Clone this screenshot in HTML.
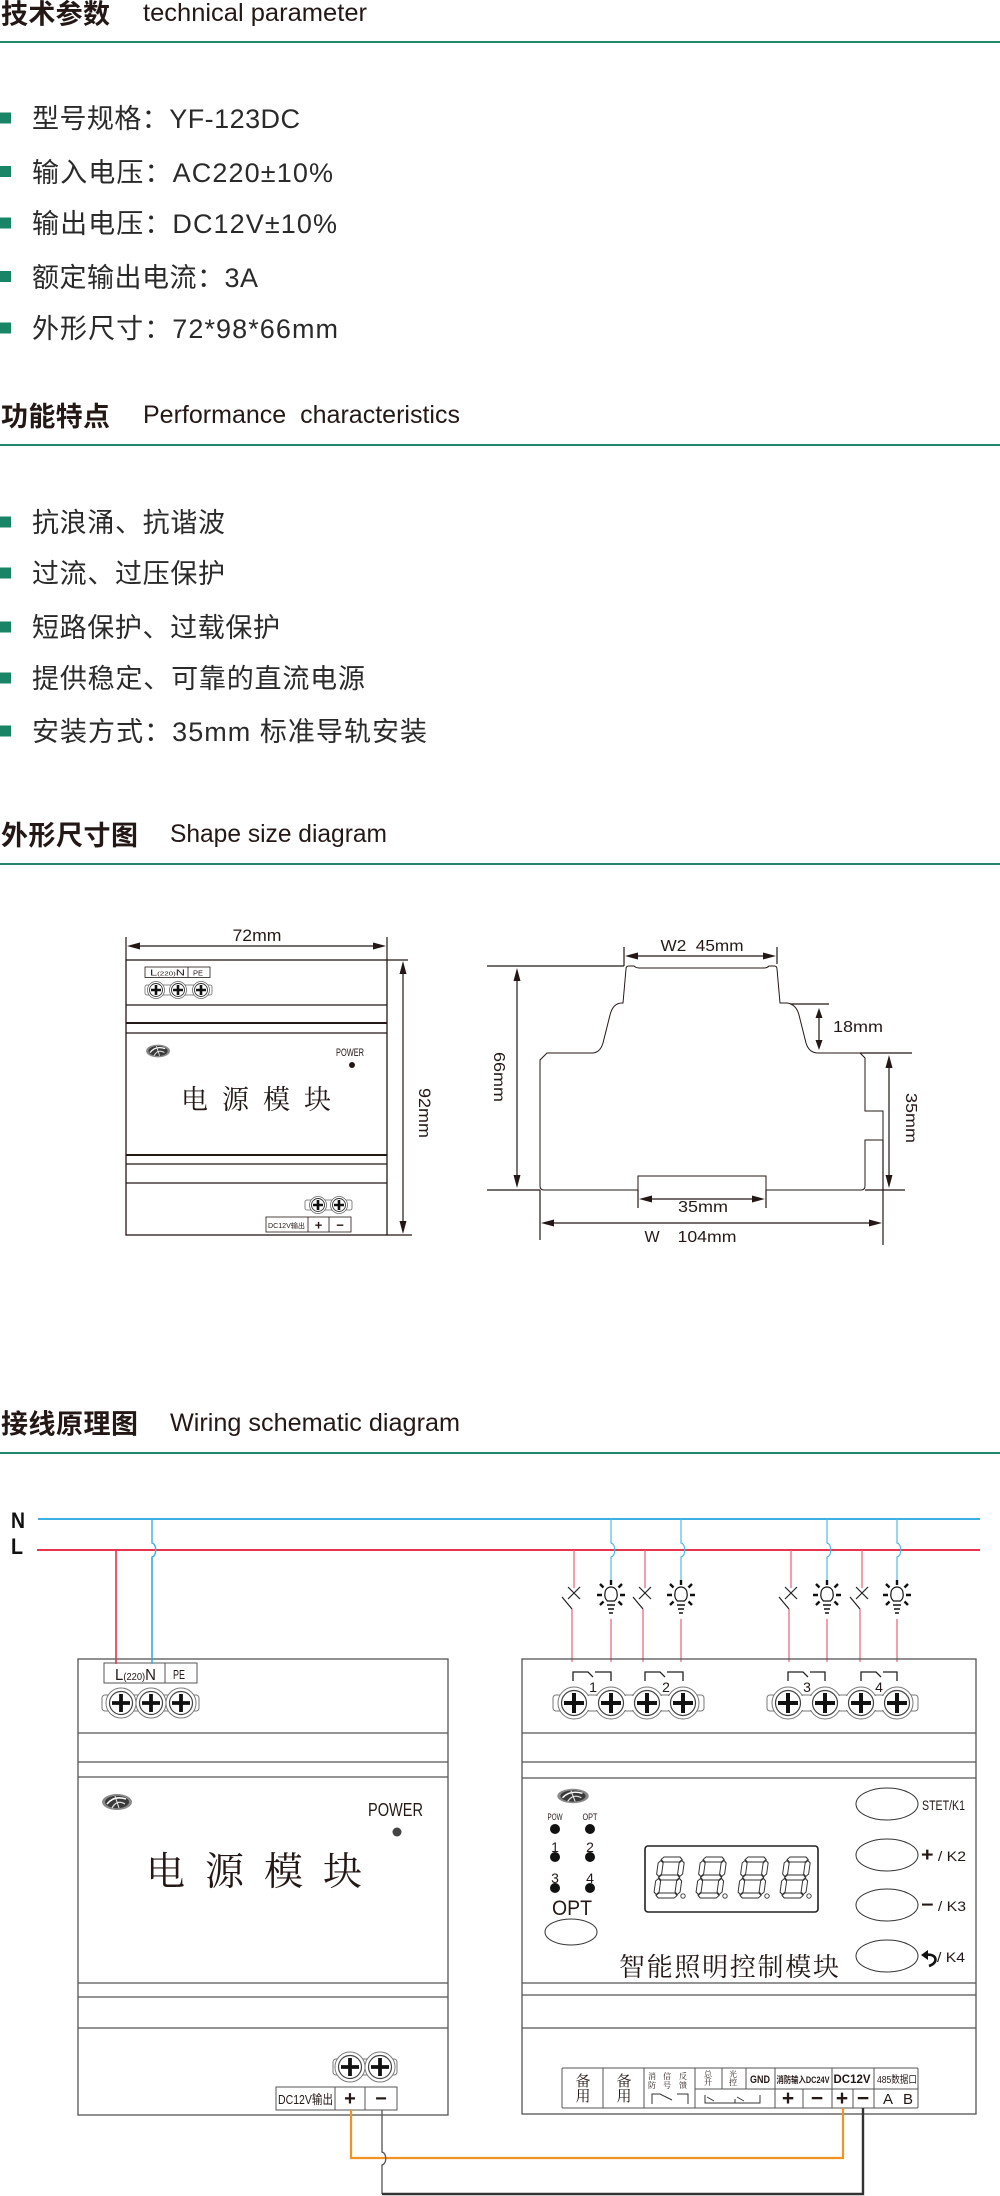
<!DOCTYPE html>
<html><head><meta charset="utf-8">
<style>
html,body{margin:0;padding:0;background:#fff;}
body{width:1000px;height:2196px;overflow:hidden;}
svg{display:block;}
</style></head><body>
<svg width="1000" height="2196" viewBox="0 0 1000 2196" xmlns="http://www.w3.org/2000/svg" xmlns:xlink="http://www.w3.org/1999/xlink">
<defs>
 <g id="dg" fill="none" stroke="#333" stroke-width="1">
  <polygon points="2.5,2.5 5,0 21,0 23.5,2.5 21,5 5,5"/>
  <polygon points="2.5,20.5 5,18 21,18 23.5,20.5 21,23 5,23"/>
  <polygon points="2.5,38.5 5,36 21,36 23.5,38.5 21,41 5,41"/>
  <polygon points="2.5,3.5 5,6 5,17 2.5,19.5 0,17 0,6"/>
  <polygon points="23.5,3.5 26,6 26,17 23.5,19.5 21,17 21,6"/>
  <polygon points="2.5,21.5 5,24 5,35 2.5,37.5 0,35 0,24"/>
  <polygon points="23.5,21.5 26,24 26,35 23.5,37.5 21,35 21,24"/>
 </g>
 <g id="logo">
  <ellipse rx="15" ry="8" fill="#8a8a8a"/>
  <ellipse rx="12" ry="6.2" fill="#3a3a3a"/>
  <path d="M-10 2 Q-3 -7 9 -3" stroke="#fff" stroke-width="1.6" fill="none"/>
  <path d="M-5 6 Q0 -3 8 2" stroke="#ddd" stroke-width="1.3" fill="none"/>
  <path d="M-2 -6 L2 6" stroke="#eee" stroke-width="1" fill="none"/>
 </g>
</defs>

<g font-family="'Liberation Sans','Noto Sans CJK SC',sans-serif" fill="#231815">
 <text x="1" y="23.5" font-size="27" font-weight="bold" textLength="109">技术参数</text>
 <text x="143" y="21" font-size="25" textLength="224" lengthAdjust="spacingAndGlyphs">technical parameter</text>
 <rect x="0" y="41" width="1000" height="2" fill="#22876a"/>
 <g fill="#1a8566">
  <rect x="0" y="112.5" width="11" height="11"/>
  <rect x="0" y="166" width="11" height="11"/>
  <rect x="0" y="217.5" width="11" height="11"/>
  <rect x="0" y="271" width="11" height="11"/>
  <rect x="0" y="322.5" width="11" height="11"/>
 </g>
 <g font-size="27" fill="#2a2a2a">
  <text x="32" y="128" textLength="268">型号规格：YF-123DC</text>
  <text x="32" y="182" textLength="301">输入电压：AC220±10%</text>
  <text x="32" y="233" textLength="305">输出电压：DC12V±10%</text>
  <text x="32" y="287" textLength="226">额定输出电流：3A</text>
  <text x="32" y="338" textLength="306">外形尺寸：72*98*66mm</text>
 </g>

 <text x="1" y="426" font-size="27" font-weight="bold" textLength="109">功能特点</text>
 <text x="143" y="423" font-size="25" textLength="317" lengthAdjust="spacingAndGlyphs">Performance&#160; characteristics</text>
 <rect x="0" y="444" width="1000" height="2" fill="#22876a"/>
 <g fill="#1a8566">
  <rect x="0" y="516.5" width="11" height="11"/>
  <rect x="0" y="567.5" width="11" height="11"/>
  <rect x="0" y="621.5" width="11" height="11"/>
  <rect x="0" y="672.5" width="11" height="11"/>
  <rect x="0" y="725.5" width="11" height="11"/>
 </g>
 <g font-size="27" fill="#2a2a2a">
  <text x="32" y="532" textLength="193">抗浪涌、抗谐波</text>
  <text x="32" y="583" textLength="193">过流、过压保护</text>
  <text x="32" y="637" textLength="248">短路保护、过载保护</text>
  <text x="32" y="688" textLength="333">提供稳定、可靠的直流电源</text>
  <text x="32" y="741" textLength="395">安装方式：35mm 标准导轨安装</text>
 </g>

 <text x="1" y="845" font-size="27" font-weight="bold" textLength="137">外形尺寸图</text>
 <text x="170" y="842" font-size="25" textLength="217" lengthAdjust="spacingAndGlyphs">Shape size diagram</text>
 <rect x="0" y="863" width="1000" height="2" fill="#22876a"/>

 <text x="1" y="1433.5" font-size="27" font-weight="bold" textLength="137">接线原理图</text>
 <text x="170" y="1431" font-size="25" textLength="290" lengthAdjust="spacingAndGlyphs">Wiring schematic diagram</text>
 <rect x="0" y="1452" width="1000" height="2" fill="#22876a"/>
</g>

<!-- FRONT VIEW -->
<g stroke="#231815" fill="none" stroke-width="1.3">
 <rect x="126" y="960" width="261" height="275"/>
 <path d="M126 1005H387 M126 1033H387 M126 1164H387 M126 1183H387"/>
 <path d="M126 1023H387 M126 1155H387" stroke-width="2"/>
 <path d="M126 937V960 M387 937V960 M138 946H375" stroke-width="1.2"/>
 <path d="M387 960H408 M387 1235H412 M403 972V1223" stroke-width="1.2"/>
 <rect x="145" y="967" width="65" height="10.5" stroke-width="0.8"/>
 <path d="M188 967V977.5" stroke-width="0.8"/>
 <rect x="266" y="1217" width="85" height="15" stroke-width="0.8"/>
 <path d="M308 1217V1232 M329 1217V1232" stroke-width="0.8"/>
</g>
<g fill="#231815">
 <polygon points="127,946 140,942.5 140,949.5"/>
 <polygon points="386,946 373,942.5 373,949.5"/>
 <polygon points="403,961 399.5,974 406.5,974"/>
 <polygon points="403,1234 399.5,1221 406.5,1221"/>
 <circle cx="352" cy="1065" r="3"/>
</g>
<g>
 <rect x="145" y="985" width="67" height="10" rx="2" fill="#fff" stroke="#666" stroke-width="0.8"/>
 <circle cx="156" cy="990" r="8.5" fill="#fff" stroke="#666" stroke-width="0.8"/>
 <circle cx="178" cy="990" r="8.5" fill="#fff" stroke="#666" stroke-width="0.8"/>
 <circle cx="201" cy="990" r="8.5" fill="#fff" stroke="#666" stroke-width="0.8"/>
 <circle cx="156" cy="990" r="6.5" fill="#fff" stroke="#333" stroke-width="0.9"/>
 <circle cx="178" cy="990" r="6.5" fill="#fff" stroke="#333" stroke-width="0.9"/>
 <circle cx="201" cy="990" r="6.5" fill="#fff" stroke="#333" stroke-width="0.9"/>
 <path d="M151 990H161 M156 985V995 M173 990H183 M178 985V995 M196 990H206 M201 985V995" stroke="#111" stroke-width="2.6"/>
</g>
<g>
 <rect x="305" y="1200" width="47" height="10" rx="2" fill="#fff" stroke="#666" stroke-width="0.8"/>
 <circle cx="318" cy="1205" r="8.5" fill="#fff" stroke="#666" stroke-width="0.8"/>
 <circle cx="339" cy="1205" r="8.5" fill="#fff" stroke="#666" stroke-width="0.8"/>
 <circle cx="318" cy="1205" r="6.5" fill="#fff" stroke="#333" stroke-width="0.9"/>
 <circle cx="339" cy="1205" r="6.5" fill="#fff" stroke="#333" stroke-width="0.9"/>
 <path d="M313 1205H323 M318 1200V1210 M334 1205H344 M339 1200V1210" stroke="#111" stroke-width="2.6"/>
</g>
<use xlink:href="#logo" href="#logo" transform="translate(158,1051) scale(0.8)"/>
<g font-family="'Liberation Sans','Noto Sans CJK SC',sans-serif" fill="#231815">
 <text x="257" y="941" font-size="17" text-anchor="middle" textLength="49" lengthAdjust="spacingAndGlyphs">72mm</text>
 <text transform="translate(419,1113) rotate(90)" x="0" y="0" font-size="17" text-anchor="middle" textLength="50" lengthAdjust="spacingAndGlyphs">92mm</text>
 <text x="150" y="975.5" font-size="8" textLength="35" lengthAdjust="spacingAndGlyphs">L<tspan font-size="5">(220)</tspan>N</text>
 <text x="193" y="975.5" font-size="7" textLength="10" lengthAdjust="spacingAndGlyphs">PE</text>
 <text x="350" y="1056" font-size="11" text-anchor="middle" textLength="28" lengthAdjust="spacingAndGlyphs">POWER</text>
 <text x="268" y="1228" font-size="7" textLength="37" lengthAdjust="spacingAndGlyphs">DC12V输出</text>
 <text x="318.5" y="1229.5" font-size="13" font-weight="bold" text-anchor="middle">+</text>
 <text x="340" y="1229.5" font-size="13" font-weight="bold" text-anchor="middle">−</text>
</g>
<text x="181" y="1109" font-family="'Noto Serif CJK SC','Liberation Serif',serif" font-size="27" fill="#231815" textLength="150">电源模块</text>

<!-- SIDE VIEW -->
<g stroke="#231815" fill="none" stroke-width="1">
 <path d="M623 1003 L626 969 Q626 966 629 966 L634 966 Q636 968 639 968 L764 968 Q767 968 769 966 L774 966 Q777 966 777 969 L780 1003 L787 1003 Q796 1004 799 1015 L806 1043 Q809 1053 818 1053 L860 1053 L865 1058 L865 1111 L883 1111 L883 1140 L865 1140 L865 1186 Q865 1190 861 1190 L766 1190 L766 1176 L638 1176 L638 1190 L544 1190 Q540 1190 540 1186 L540 1060 L547 1053 L592 1053 Q600 1053 603 1043 L610 1015 Q613 1003 622 1003 Z"/>
</g>
<g stroke="#231815" fill="none" stroke-width="1.2">
 <path d="M624 947V966 M777 947V964 M636 956H765"/>
 <path d="M487 966H624 M487 1190H540 M517 980V1177"/>
 <path d="M790 1004H829 M819 1016V1042"/>
 <path d="M860 1053H912 M865 1190H905 M889 1066V1177"/>
 <path d="M638 1190V1208 M766 1190V1208 M651 1199H753"/>
 <path d="M540 1190V1240 M883 1140V1245 M553 1223H870"/>
</g>
<g fill="#231815">
 <polygon points="625,956 638,952.5 638,959.5"/>
 <polygon points="776,956 763,952.5 763,959.5"/>
 <polygon points="517,968 513.5,981 520.5,981"/>
 <polygon points="517,1188 513.5,1175 520.5,1175"/>
 <polygon points="819,1008 815.5,1018 822.5,1018"/>
 <polygon points="819,1050 815.5,1040 822.5,1040"/>
 <polygon points="889,1055 885.5,1068 892.5,1068"/>
 <polygon points="889,1188 885.5,1175 892.5,1175"/>
 <polygon points="639,1199 652,1195.5 652,1202.5"/>
 <polygon points="765,1199 752,1195.5 752,1202.5"/>
 <polygon points="541,1223 554,1219.5 554,1226.5"/>
 <polygon points="882,1223 869,1219.5 869,1226.5"/>
</g>
<g font-family="'Liberation Sans','Noto Sans CJK SC',sans-serif" fill="#231815" font-size="16">
 <text x="702" y="951" text-anchor="middle" textLength="83" lengthAdjust="spacingAndGlyphs">W2&#160;&#160;45mm</text>
 <text transform="translate(494,1077) rotate(90)" x="0" y="0" text-anchor="middle" textLength="50" lengthAdjust="spacingAndGlyphs">66mm</text>
 <text x="833" y="1032" textLength="50" lengthAdjust="spacingAndGlyphs">18mm</text>
 <text transform="translate(906,1118) rotate(90)" x="0" y="0" text-anchor="middle" textLength="50" lengthAdjust="spacingAndGlyphs">35mm</text>
 <text x="703" y="1212" text-anchor="middle" textLength="50" lengthAdjust="spacingAndGlyphs">35mm</text>
 <text x="652" y="1242" text-anchor="middle">W</text>
 <text x="707" y="1242" text-anchor="middle" textLength="59" lengthAdjust="spacingAndGlyphs">104mm</text>
</g>

<!-- WIRING -->
<g font-family="'Liberation Sans',sans-serif" font-weight="bold" fill="#111" font-size="22">
 <text x="11" y="1528" textLength="14" lengthAdjust="spacingAndGlyphs">N</text>
 <text x="11" y="1554" textLength="12" lengthAdjust="spacingAndGlyphs">L</text>
</g>
<path d="M38 1519H980" stroke="#3ab0e2" stroke-width="2" fill="none"/>
<path d="M37 1550H980" stroke="#e8344e" stroke-width="2" fill="none"/>
<path d="M116 1550V1663" stroke="#e8344e" stroke-width="1.4" fill="none"/>
<path d="M152 1519V1543 C157 1544 157 1556 152 1557 V1663" stroke="#3ab0e2" stroke-width="1.4" fill="none"/>

<g stroke="#ec6275" stroke-width="1.2" fill="none">
 <path d="M574 1550V1588 M572 1609V1662"/>
 <path d="M645 1550V1588 M643 1609V1662"/>
 <path d="M791 1550V1588 M789 1609V1662"/>
 <path d="M862 1550V1588 M860 1609V1662"/>
 <path d="M611 1619V1662 M681 1619V1662 M827 1619V1662 M897 1619V1662"/>
</g>
<g stroke="#222" stroke-width="1.2" fill="none">
 <path d="M568 1587L580 1599 M580 1587L568 1599 M562 1597L572 1609"/>
 <path d="M639 1587L651 1599 M651 1587L639 1599 M633 1597L643 1609"/>
 <path d="M785 1587L797 1599 M797 1587L785 1599 M779 1597L789 1609"/>
 <path d="M856 1587L868 1599 M868 1587L856 1599 M850 1597L860 1609"/>
</g>
<g stroke="#4fbbe8" stroke-width="1.2" fill="none">
 <path d="M611 1519V1543 C616 1544 616 1556 611 1557 V1581"/>
 <path d="M681 1519V1543 C686 1544 686 1556 681 1557 V1581"/>
 <path d="M827 1519V1543 C832 1544 832 1556 827 1557 V1581"/>
 <path d="M897 1519V1543 C902 1544 902 1556 897 1557 V1581"/>
</g>
<g stroke="#111" fill="none">
 <g transform="translate(611,0)">
  <path d="M-3.5 1601 Q-7 1598 -6 1593 A6 6 0 1 1 6 1593 Q7 1598 3.5 1601 Z" stroke-width="1.2" fill="#fff"/>
  <path d="M-4 1605H4 M-3 1609H3 M-2 1613H2" stroke-width="1.6"/>
  <path d="M0 1580V1585 M-14 1595H-9 M9 1595H14 M-11 1584L-7.5 1587.5 M11 1584L7.5 1587.5 M-11 1605L-7.5 1601.5 M11 1605L7.5 1601.5" stroke-width="2.4"/>
 </g>
 <g transform="translate(681,0)">
  <path d="M-3.5 1601 Q-7 1598 -6 1593 A6 6 0 1 1 6 1593 Q7 1598 3.5 1601 Z" stroke-width="1.2" fill="#fff"/>
  <path d="M-4 1605H4 M-3 1609H3 M-2 1613H2" stroke-width="1.6"/>
  <path d="M0 1580V1585 M-14 1595H-9 M9 1595H14 M-11 1584L-7.5 1587.5 M11 1584L7.5 1587.5 M-11 1605L-7.5 1601.5 M11 1605L7.5 1601.5" stroke-width="2.4"/>
 </g>
 <g transform="translate(827,0)">
  <path d="M-3.5 1601 Q-7 1598 -6 1593 A6 6 0 1 1 6 1593 Q7 1598 3.5 1601 Z" stroke-width="1.2" fill="#fff"/>
  <path d="M-4 1605H4 M-3 1609H3 M-2 1613H2" stroke-width="1.6"/>
  <path d="M0 1580V1585 M-14 1595H-9 M9 1595H14 M-11 1584L-7.5 1587.5 M11 1584L7.5 1587.5 M-11 1605L-7.5 1601.5 M11 1605L7.5 1601.5" stroke-width="2.4"/>
 </g>
 <g transform="translate(897,0)">
  <path d="M-3.5 1601 Q-7 1598 -6 1593 A6 6 0 1 1 6 1593 Q7 1598 3.5 1601 Z" stroke-width="1.2" fill="#fff"/>
  <path d="M-4 1605H4 M-3 1609H3 M-2 1613H2" stroke-width="1.6"/>
  <path d="M0 1580V1585 M-14 1595H-9 M9 1595H14 M-11 1584L-7.5 1587.5 M11 1584L7.5 1587.5 M-11 1605L-7.5 1601.5 M11 1605L7.5 1601.5" stroke-width="2.4"/>
 </g>
</g>

<!-- LEFT POWER MODULE -->
<g stroke="#555" fill="none" stroke-width="1.3">
 <rect x="78" y="1659" width="370" height="456"/>
 <path d="M78 1733H448 M78 1762H448 M78 1777H448 M78 1983H448 M78 1997H448 M78 2028H448" stroke-width="1.2"/>
 <rect x="104" y="1663" width="93" height="20" stroke-width="1"/>
 <path d="M165 1663V1683" stroke-width="1"/>
 <rect x="276" y="2087" width="121" height="23" stroke-width="1"/>
 <path d="M335 2087V2110 M365 2087V2110" stroke-width="1"/>
</g>
<path d="M116 1550V1664" stroke="#e8344e" stroke-width="1.4" fill="none"/>
<path d="M152 1557V1664" stroke="#3ab0e2" stroke-width="1.4" fill="none"/>
<g>
 <rect x="102" y="1695" width="97" height="16" rx="3" fill="#fff" stroke="#777" stroke-width="1"/>
 <circle cx="121" cy="1703" r="15" fill="#fff" stroke="#777" stroke-width="1"/>
 <circle cx="151" cy="1703" r="15" fill="#fff" stroke="#777" stroke-width="1"/>
 <circle cx="181" cy="1703" r="15" fill="#fff" stroke="#777" stroke-width="1"/>
 <circle cx="121" cy="1703" r="14.4" fill="#fff"/>
 <circle cx="151" cy="1703" r="14.4" fill="#fff"/>
 <circle cx="181" cy="1703" r="14.4" fill="#fff"/>
 <circle cx="121" cy="1703" r="11.5" fill="#fff" stroke="#444" stroke-width="1.2"/>
 <circle cx="151" cy="1703" r="11.5" fill="#fff" stroke="#444" stroke-width="1.2"/>
 <circle cx="181" cy="1703" r="11.5" fill="#fff" stroke="#444" stroke-width="1.2"/>
 <path d="M112 1703H130 M121 1694V1712 M142 1703H160 M151 1694V1712 M172 1703H190 M181 1694V1712" stroke="#111" stroke-width="3.8"/>
</g>
<g>
 <rect x="333" y="2059" width="64" height="16" rx="3" fill="#fff" stroke="#777" stroke-width="1"/>
 <circle cx="350" cy="2067" r="15" fill="#fff" stroke="#777" stroke-width="1"/>
 <circle cx="380" cy="2067" r="15" fill="#fff" stroke="#777" stroke-width="1"/>
 <circle cx="350" cy="2067" r="14.4" fill="#fff"/>
 <circle cx="380" cy="2067" r="14.4" fill="#fff"/>
 <circle cx="350" cy="2067" r="11.5" fill="#fff" stroke="#444" stroke-width="1.2"/>
 <circle cx="380" cy="2067" r="11.5" fill="#fff" stroke="#444" stroke-width="1.2"/>
 <path d="M341 2067H359 M350 2058V2076 M371 2067H389 M380 2058V2076" stroke="#111" stroke-width="3.8"/>
</g>
<use xlink:href="#logo" href="#logo" transform="translate(117,1802)"/>
<circle cx="397" cy="1832" r="4.5" fill="#444"/>
<g font-family="'Liberation Sans','Noto Sans CJK SC',sans-serif" fill="#231815">
 <text x="115" y="1680" font-size="16" textLength="41" lengthAdjust="spacingAndGlyphs">L<tspan font-size="10">(220)</tspan>N</text>
 <text x="173" y="1679" font-size="13" textLength="12" lengthAdjust="spacingAndGlyphs">PE</text>
 <text x="368" y="1816" font-size="18" textLength="55" lengthAdjust="spacingAndGlyphs">POWER</text>
 <text x="278" y="2104" font-size="13" textLength="55" lengthAdjust="spacingAndGlyphs">DC12V输出</text>
 <text x="350" y="2105" font-size="20" font-weight="bold" text-anchor="middle">+</text>
 <text x="381" y="2105" font-size="20" font-weight="bold" text-anchor="middle">−</text>
</g>
<text x="146" y="1885" font-family="'Noto Serif CJK SC','Liberation Serif',serif" font-size="39" fill="#231815" textLength="216">电源模块</text>

<!-- RIGHT CONTROL MODULE -->
<g stroke="#555" fill="none" stroke-width="1.3">
 <rect x="522" y="1659" width="454" height="455"/>
 <path d="M522 1733H976 M522 1762H976 M522 1778H976 M522 1983H976 M522 1995H976 M522 2028H976" stroke-width="1.2"/>
</g>
<g stroke="#222" stroke-width="1.3" fill="none">
 <path d="M573 1681V1672H588L593 1677 M595 1672H611V1681"/>
 <path d="M645 1681V1672H660L665 1677 M667 1672H683V1681"/>
 <path d="M788 1681V1672H803L808 1677 M810 1672H825V1681"/>
 <path d="M861 1681V1672H876L881 1677 M883 1672H897V1681"/>
</g>
<g font-family="'Liberation Sans',sans-serif" fill="#231815" font-size="14" text-anchor="middle">
 <text x="593" y="1692">1</text>
 <text x="666" y="1692">2</text>
 <text x="807" y="1692">3</text>
 <text x="879" y="1692">4</text>
</g>
<g>
 <rect x="553" y="1695" width="151" height="16" rx="3" fill="#fff" stroke="#777" stroke-width="1"/>
 <rect x="767" y="1695" width="151" height="16" rx="3" fill="#fff" stroke="#777" stroke-width="1"/>
 <g fill="#fff" stroke="#777" stroke-width="1">
  <circle cx="574" cy="1703" r="16"/><circle cx="611" cy="1703" r="16"/><circle cx="647" cy="1703" r="16"/><circle cx="683" cy="1703" r="16"/>
  <circle cx="788" cy="1703" r="16"/><circle cx="825" cy="1703" r="16"/><circle cx="861" cy="1703" r="16"/><circle cx="897" cy="1703" r="16"/>
 </g>
 <g fill="#fff">
  <rect x="574" y="1696" width="109" height="14"/>
  <rect x="788" y="1696" width="109" height="14"/>
 </g>
 <g fill="#fff" stroke="#444" stroke-width="1.2">
  <circle cx="574" cy="1703" r="12.5"/><circle cx="611" cy="1703" r="12.5"/><circle cx="647" cy="1703" r="12.5"/><circle cx="683" cy="1703" r="12.5"/>
  <circle cx="788" cy="1703" r="12.5"/><circle cx="825" cy="1703" r="12.5"/><circle cx="861" cy="1703" r="12.5"/><circle cx="897" cy="1703" r="12.5"/>
 </g>
 <path d="M564 1703H584 M574 1693V1713 M601 1703H621 M611 1693V1713 M637 1703H657 M647 1693V1713 M673 1703H693 M683 1693V1713 M778 1703H798 M788 1693V1713 M815 1703H835 M825 1693V1713 M851 1703H871 M861 1693V1713 M887 1703H907 M897 1693V1713" stroke="#111" stroke-width="4"/>
</g>

<use xlink:href="#logo" href="#logo" transform="translate(573,1796) scale(1.05,0.9)"/>
<g font-family="'Liberation Sans',sans-serif" fill="#231815" text-anchor="middle">
 <text x="555" y="1820" font-size="9" textLength="15" lengthAdjust="spacingAndGlyphs">POW</text>
 <text x="590" y="1820" font-size="9" textLength="15" lengthAdjust="spacingAndGlyphs">OPT</text>
 <text x="555" y="1852" font-size="14">1</text>
 <text x="590" y="1852" font-size="14">2</text>
 <text x="555" y="1883" font-size="14">3</text>
 <text x="590" y="1883" font-size="14">4</text>
 <text x="572" y="1915" font-size="21" textLength="40" lengthAdjust="spacingAndGlyphs">OPT</text>
</g>
<g fill="#111">
 <circle cx="555" cy="1829" r="5"/><circle cx="590" cy="1829" r="5"/>
 <circle cx="555" cy="1857" r="5"/><circle cx="590" cy="1857" r="5"/>
 <circle cx="555" cy="1888" r="5"/><circle cx="590" cy="1888" r="5"/>
</g>
<ellipse cx="571" cy="1932" rx="26" ry="13" fill="none" stroke="#333" stroke-width="1"/>
<rect x="645" y="1846" width="173" height="66" rx="3" fill="none" stroke="#222" stroke-width="1.6"/>
<use xlink:href="#dg" href="#dg" transform="translate(659,1857) skewX(-8)"/>
<use xlink:href="#dg" href="#dg" transform="translate(701,1857) skewX(-8)"/>
<use xlink:href="#dg" href="#dg" transform="translate(743,1857) skewX(-8)"/>
<use xlink:href="#dg" href="#dg" transform="translate(785,1857) skewX(-8)"/>
<g fill="none" stroke="#333" stroke-width="0.9">
 <circle cx="683" cy="1896" r="2.2"/><circle cx="725" cy="1896" r="2.2"/><circle cx="767" cy="1896" r="2.2"/><circle cx="809" cy="1896" r="2.2"/>
</g>
<text x="619" y="1976" font-family="'Noto Serif CJK SC','Liberation Serif',serif" font-size="26" fill="#231815" textLength="220">智能照明控制模块</text>
<g fill="none" stroke="#333" stroke-width="1">
 <ellipse cx="887" cy="1804" rx="31" ry="16"/>
 <ellipse cx="887" cy="1855" rx="31" ry="16"/>
 <ellipse cx="887" cy="1905" rx="31" ry="16"/>
 <ellipse cx="887" cy="1956" rx="31" ry="16"/>
</g>
<g font-family="'Liberation Sans',sans-serif" fill="#231815" font-size="14">
 <text x="922" y="1810" textLength="43" lengthAdjust="spacingAndGlyphs">STET/K1</text>
 <text x="921" y="1861" textLength="45" lengthAdjust="spacingAndGlyphs"><tspan font-weight="bold" font-size="19">+</tspan> / K2</text>
 <text x="921" y="1911" textLength="45" lengthAdjust="spacingAndGlyphs"><tspan font-weight="bold" font-size="19">−</tspan> / K3</text>
 <text x="937" y="1962" textLength="28" lengthAdjust="spacingAndGlyphs">/ K4</text>
</g>
<polygon points="921,1955 928,1950 928,1960" fill="#111"/>
<path d="M926 1955 C937 1953 939 1963 929 1966" stroke="#111" stroke-width="2.6" fill="none"/>

<g stroke="#555" fill="none" stroke-width="1">
 <rect x="562" y="2068" width="356" height="40" rx="1"/>
 <path d="M603 2068V2108 M644 2068V2108 M695 2068V2108 M775 2068V2108 M832 2068V2108 M874 2068V2108"/>
 <path d="M695 2089H918"/>
 <path d="M722 2068V2089 M746 2068V2089"/>
 <path d="M803 2089V2108 M853 2089V2108"/>
</g>
<g stroke="#333" stroke-width="1" fill="none">
 <path d="M652 2104V2094H660L672 2100 M677 2094H688V2104"/>
 <path d="M705 2095V2103H760V2095 M707 2097L714 2101 M735 2099V2103 M737 2097L744 2101"/>
</g>
<g font-family="'Noto Serif CJK SC','Liberation Serif',serif" fill="#231815">
 <text x="583" y="2086" font-size="15" text-anchor="middle">备</text>
 <text x="583" y="2101" font-size="15" text-anchor="middle">用</text>
 <text x="624" y="2086" font-size="15" text-anchor="middle">备</text>
 <text x="624" y="2101" font-size="15" text-anchor="middle">用</text>
 <g font-size="8" text-anchor="middle">
  <text x="652" y="2079">消</text><text x="652" y="2088">防</text>
  <text x="667" y="2079">信</text><text x="667" y="2088">号</text>
  <text x="683" y="2079">反</text><text x="683" y="2088">馈</text>
  <text x="708" y="2077">总</text><text x="708" y="2085">开</text>
  <text x="733" y="2077">光</text><text x="733" y="2085">控</text>
 </g>
</g>
<g font-family="'Liberation Sans','Noto Sans CJK SC',sans-serif" fill="#231815">
 <text x="760" y="2083" font-size="11" font-weight="bold" text-anchor="middle" textLength="20" lengthAdjust="spacingAndGlyphs">GND</text>
 <text x="803" y="2083" font-size="9" font-weight="bold" text-anchor="middle" textLength="53" lengthAdjust="spacingAndGlyphs">消防输入DC24V</text>
 <text x="852" y="2083" font-size="11.5" font-weight="bold" text-anchor="middle" textLength="37" lengthAdjust="spacingAndGlyphs">DC12V</text>
 <text x="897" y="2083" font-size="10" text-anchor="middle" textLength="40" lengthAdjust="spacingAndGlyphs">485数据口</text>
 <text x="788" y="2105" font-size="21" font-weight="bold" text-anchor="middle">+</text>
 <text x="817" y="2105" font-size="21" font-weight="bold" text-anchor="middle">−</text>
 <text x="842" y="2105" font-size="21" font-weight="bold" text-anchor="middle">+</text>
 <text x="863" y="2105" font-size="21" font-weight="bold" text-anchor="middle">−</text>
 <text x="888" y="2104" font-size="15" text-anchor="middle">A</text>
 <text x="908" y="2104" font-size="15" text-anchor="middle">B</text>
</g>

<path d="M351 2110V2158H843V2108" stroke="#f39222" stroke-width="2.2" fill="none"/>
<path d="M382 2110V2152 C387 2153 387 2164 382 2165 V2194" stroke="#555" stroke-width="1.3" fill="none"/>
<path d="M382 2194H863V2108" stroke="#333" stroke-width="2.4" fill="none"/>
</svg>
</body></html>
